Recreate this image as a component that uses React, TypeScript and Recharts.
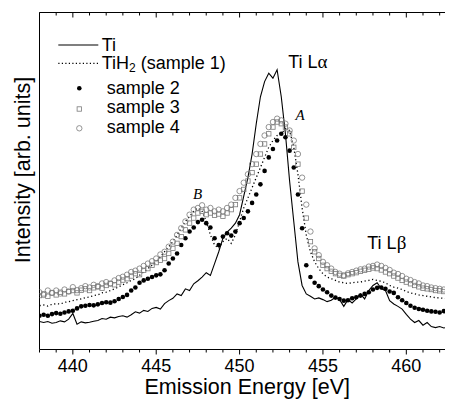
import React from 'react';
import { ComposedChart, Line, XAxis, YAxis, Legend, ReferenceDot, Label } from 'recharts';

const energies = [
  438, 438.25, 438.5, 438.75, 439, 439.25, 439.5, 439.75,
  440, 440.25, 440.5, 440.75, 441, 441.25, 441.5, 441.75,
  442, 442.25, 442.5, 442.75, 443, 443.25, 443.5, 443.75,
  444, 444.25, 444.5, 444.75, 445, 445.25, 445.5, 445.75,
  446, 446.25, 446.5, 446.75, 447, 447.25, 447.5, 447.75,
  448, 448.25, 448.5, 448.75, 449, 449.25, 449.5, 449.75,
  450, 450.25, 450.5, 450.75, 451, 451.25, 451.5, 451.75,
  452, 452.25, 452.5, 452.75, 453, 453.25, 453.5, 453.75,
  454, 454.25, 454.5, 454.75, 455, 455.25, 455.5, 455.75,
  456, 456.25, 456.5, 456.75, 457, 457.25, 457.5, 457.75,
  458, 458.25, 458.5, 458.75, 459, 459.25, 459.5, 459.75,
  460, 460.25, 460.5, 460.75, 461, 461.25, 461.5, 461.75,
  462, 462.25, 462.5, 462.75,
];

const tiMetal = [
  8.3, 8.0, 8.3, 7.8, 8.0, 8.5, 8.2, 9.0,
  10.7, 7.5, 8.2, 7.9, 8.1, 8.4, 8.6, 9.2,
  9.0, 9.6, 9.4, 9.8, 10.0, 9.6, 10.3, 11.2,
  10.8, 11.6, 11.3, 12.2, 12.5, 12.0, 13.6, 14.5,
  15.2, 16.5, 16.0, 18.0, 17.5, 19.5, 20.4, 21.5,
  22.8, 22.0, 25.5, 29.0, 33.0, 34.8, 36.0, 37.5,
  40.0, 45.5, 51.0, 58.0, 67.0, 75.0, 79.5, 82.0,
  80.5, 83.0, 75.0, 64.0, 50.0, 38.0, 26.0, 19.0,
  16.5, 15.8, 15.0, 15.3, 14.8, 14.2, 14.6, 15.5,
  14.8, 12.8, 14.8, 13.8, 15.0, 16.5, 15.0, 17.5,
  19.0, 19.8, 18.0, 17.5, 14.5, 13.5, 12.8, 12.0,
  10.4, 9.0, 8.0, 8.6, 7.2, 8.0, 6.8, 6.5,
  6.8, 6.4, 6.6, 6.5,
];

const tiH2 = [
  13.0, 13.2, 12.9, 13.4, 13.6, 13.5, 14.0, 14.2,
  14.5, 14.8, 15.0, 15.4, 15.6, 16.0, 16.2, 16.8,
  17.0, 17.5, 18.0, 18.6, 19.2, 19.8, 20.5, 21.0,
  22.0, 23.0, 24.0, 25.0, 26.0, 27.5, 29.0, 30.5,
  32.0, 34.0, 36.0, 38.0, 39.5, 41.0, 42.0, 41.0,
  38.0, 34.0, 31.0, 30.0, 32.0, 33.0, 31.5, 34.0,
  38.0, 42.0, 45.0, 48.0, 51.0, 54.0, 57.0, 60.0,
  62.0, 63.5, 64.0, 65.5, 65.0, 60.0, 52.0, 42.0,
  34.0, 29.0, 26.0, 24.0, 22.5, 21.5, 21.0, 20.5,
  20.0, 19.8, 19.6, 19.8, 20.0, 20.0, 20.3, 20.5,
  20.8, 20.5, 20.2, 19.8, 19.0, 18.5, 18.2, 17.8,
  17.2, 16.8, 16.5, 16.2, 16.0, 15.8, 15.6, 15.4,
  15.3, 15.2, 15.0, 15.0,
];

const sample2 = [
  10.0, 10.3, 10.0, 10.5, 10.8, 10.6, 11.0, 11.3,
  11.5, 12.2, 12.8, 13.0, 13.2, 13.1, 13.4, 13.8,
  14.0, 13.9, 14.3, 15.0, 15.6, 16.2, 17.5, 18.4,
  19.8, 20.5, 21.0, 21.5, 22.0, 22.3, 23.5, 25.5,
  27.0, 28.5, 31.0, 33.0, 35.0, 36.2, 37.8, 38.5,
  37.5, 36.2, 33.0, 31.0, 33.5, 34.5, 33.8, 35.0,
  37.5, 39.0, 41.0, 43.5, 46.0, 49.0, 53.0, 57.0,
  59.5, 62.0, 64.0, 63.0, 59.0, 54.0, 46.0, 36.0,
  25.0, 21.5, 19.8, 18.8, 17.8, 17.0, 16.0, 15.4,
  15.0, 14.5, 14.6, 15.2, 15.5, 16.0, 16.5, 17.0,
  17.8, 18.3, 18.4, 18.0, 17.2, 16.8, 15.5, 14.6,
  13.8, 13.0, 12.4, 12.0, 11.8, 11.5, 11.3, 11.2,
  11.0, 11.4, 11.6, 11.5,
];

const sample3 = [
  16.0, 16.5, 15.8, 16.8, 16.2, 17.0, 16.5, 17.2,
  17.5, 16.8, 17.6, 18.0, 17.5, 18.3, 18.6, 18.2,
  19.0, 19.5, 19.2, 20.0, 20.6, 21.0, 21.8, 22.5,
  22.2, 23.5, 24.0, 25.0, 25.8, 26.5, 27.0, 28.5,
  30.0, 31.5, 33.5, 35.5, 37.5, 39.0, 40.5, 41.0,
  40.0, 40.5, 39.8, 40.2, 39.5, 40.5, 41.5, 43.0,
  45.0, 47.5, 50.0, 52.5, 55.0, 58.0, 61.0, 64.0,
  66.0, 67.5, 67.0, 66.0, 64.0, 60.0, 55.0, 47.0,
  39.0, 32.0, 29.0, 27.0, 25.0, 24.0, 23.2, 22.5,
  22.0, 21.8, 22.2, 22.5, 22.8, 23.2, 23.5, 23.8,
  24.2, 24.0, 23.6, 23.0, 22.5, 21.8, 21.2, 20.5,
  20.0, 19.5, 19.0, 18.6, 18.2, 18.0, 17.8, 17.5,
  17.4, 17.2, 17.0, 17.2,
];

const sample4 = [
  17.0, 16.2, 17.5, 16.8, 17.5, 16.6, 17.8, 17.2,
  18.5, 17.6, 18.2, 18.8, 18.4, 19.2, 18.8, 19.6,
  20.0, 19.6, 20.5, 21.2, 21.6, 22.2, 23.0, 23.4,
  24.0, 24.8, 25.5, 26.2, 27.0, 28.2, 29.0, 30.5,
  32.0, 34.0, 36.0, 38.0, 40.0, 41.5, 42.0, 42.8,
  41.5, 42.0, 41.0, 41.5, 41.0, 42.0, 43.0, 45.0,
  47.0, 49.5, 52.0, 55.0, 58.0, 61.0, 63.5, 66.0,
  67.5, 68.5, 68.0, 67.0, 65.0, 62.0, 58.0, 51.0,
  43.0, 35.0, 30.0, 28.0, 26.0, 25.0, 24.0, 23.0,
  22.5, 22.0, 22.6, 23.0, 23.4, 23.8, 24.0, 24.6,
  24.8, 25.2, 24.8, 24.2, 23.6, 22.8, 22.4, 21.8,
  21.0, 20.6, 20.0, 19.6, 19.0, 18.8, 18.4, 18.2,
  18.0, 17.8, 17.6, 17.5,
];

const seriesNames = ['Ti', 'TiH2 (sample 1)', 'sample 2', 'sample 3', 'sample 4'];
const majorTicks = [440, 445, 450, 455, 460];
const allTicks = [
  438, 439, 440, 441, 442, 443, 444, 445, 446, 447, 448, 449, 450,
  451, 452, 453, 454, 455, 456, 457, 458, 459, 460, 461, 462,
];
const xDomain = [438, 462.8];
const yDomain = [0, 100];

const annotations = [
  { id: 'la', e: 452.92, v: 83.6, main: 'Ti L', greek: 'α', italic: false },
  { id: 'lb', e: 457.66, v: 29.8, main: 'Ti L', greek: 'β', italic: false },
  { id: 'A', e: 453.35, v: 68.0, main: 'A', greek: '', italic: true },
  { id: 'B', e: 447.2, v: 44.8, main: 'B', greek: '', italic: true },
];

const data = energies.map((e, i) => ({
  e,
  ti: tiMetal[i],
  tih2: tiH2[i],
  s2: sample2[i],
  s3: sample3[i],
  s4: sample4[i],
}));

const SANS = '"Liberation Sans", Arial, Helvetica, sans-serif';
const SERIF = '"Liberation Serif", "Times New Roman", serif';
const GREY = '#7a7a7a';

const filledDot = (p: any) => {
  if (p.cx == null || p.cy == null) return <g key={`f${p.index}`} />;
  return <circle key={`f${p.index}`} cx={p.cx} cy={p.cy} r={2.3} fill="#000" stroke="none" />;
};
const squareDot = (p: any) => {
  if (p.cx == null || p.cy == null) return <g key={`q${p.index}`} />;
  return (
    <rect key={`q${p.index}`} x={p.cx - 2.2} y={p.cy - 2.2} width={4.4} height={4.4}
      fill="none" stroke={GREY} strokeWidth={0.8} />
  );
};
const openDot = (p: any) => {
  if (p.cx == null || p.cy == null) return <g key={`o${p.index}`} />;
  return <circle key={`o${p.index}`} cx={p.cx} cy={p.cy} r={2.7} fill="none" stroke={GREY} strokeWidth={0.8} />;
};

const renderBottomTick = (props: any) => {
  const { x, y, payload } = props;
  const major = majorTicks.includes(payload.value);
  return (
    <g>
      <line x1={x} x2={x} y1={y} y2={y + (major ? 5 : 3)} stroke="#000" strokeWidth={1} />
      {major && (
        <text x={x} y={y + 22.5} textAnchor="middle" fontSize={18} fontFamily={SANS} fill="#000">
          {payload.value}
        </text>
      )}
    </g>
  );
};

const renderTopTick = (props: any) => {
  const { x, y, payload } = props;
  const major = majorTicks.includes(payload.value);
  return <line x1={x} x2={x} y1={y} y2={y + (major ? 5 : 3)} stroke="#000" strokeWidth={1} />;
};

const legendLayout: Record<string, { kind: string; sy: number; ty: number; tx: number }> = {
  ti: { kind: 'solid', sy: 37, ty: 42.7, tx: 93.7 },
  tih2: { kind: 'dotted', sy: 55.3, ty: 61.3, tx: 93.7 },
  s2: { kind: 'filled', sy: 80.3, ty: 86, tx: 98.7 },
  s3: { kind: 'square', sy: 101, ty: 105.3, tx: 98.7 },
  s4: { kind: 'circle', sy: 120.3, ty: 124.7, tx: 98.7 },
};
const legendKeys = ['ti', 'tih2', 's2', 's3', 's4'];

const renderLegend = (props: any) => {
  const payload = props.payload || [];
  return (
    <svg width={445} height={140} style={{ position: 'absolute', left: 0, top: 0, overflow: 'visible' }}>
      {payload.map((entry: any, i: number) => {
        const key = typeof entry.dataKey === 'string' ? entry.dataKey : legendKeys[i];
        const l = legendLayout[key];
        if (!l) return null;
        const name = String(entry.value);
        let symbol: any = null;
        if (l.kind === 'solid') symbol = <line x1={50.3} x2={90.3} y1={l.sy} y2={l.sy} stroke="#000" strokeWidth={1.1} />;
        if (l.kind === 'dotted') symbol = <line x1={50.3} x2={90.3} y1={l.sy} y2={l.sy} stroke="#000" strokeWidth={1.2} strokeDasharray="1.2 2.3" />;
        if (l.kind === 'filled') symbol = <circle cx={71.3} cy={l.sy} r={2.3} fill="#000" />;
        if (l.kind === 'square') symbol = <rect x={69.1} y={l.sy - 2.2} width={4.4} height={4.4} fill="none" stroke={GREY} strokeWidth={0.8} />;
        if (l.kind === 'circle') symbol = <circle cx={71.3} cy={l.sy} r={2.7} fill="none" stroke={GREY} strokeWidth={0.8} />;
        const isH2 = name.startsWith('TiH2');
        return (
          <g key={key}>
            {symbol}
            <text x={l.tx} y={l.ty} fontSize={18} fontFamily={SANS} fill="#000">
              {isH2 ? (
                <>
                  <tspan>TiH</tspan>
                  <tspan fontSize={12} dy={3}>2</tspan>
                  <tspan dy={-3}>{name.slice(4)}</tspan>
                </>
              ) : name}
            </text>
          </g>
        );
      })}
    </svg>
  );
};

const renderXLabel = (props: any) => {
  const vb = props.viewBox || { x: 31.5, y: 341.5, width: 413.5, height: 55.5 };
  return (
    <text x={vb.x + vb.width / 2 + 1} y={vb.y + vb.height - 11} textAnchor="middle" fontSize={21.5} fontFamily={SANS} fill="#000">
      Emission Energy [eV]
    </text>
  );
};

const renderYLabel = (props: any) => {
  const vb = props.viewBox || { x: 0, y: 4.5, width: 31.5, height: 337 };
  const x = vb.x + 22;
  const y = vb.y + vb.height / 2 - 11;
  return (
    <text x={x} y={y} transform={`rotate(-90, ${x}, ${y})`} textAnchor="middle" fontSize={21.5} fontFamily={SANS} fill="#000">
      Intensity [arb. units]
    </text>
  );
};

const makeAnnotation = (a: any) => (props: any) => {
  const vb = props.viewBox || { x: 0, y: 0 };
  if (a.italic) {
    return (
      <text x={vb.x} y={vb.y} fontSize={15} fontStyle="italic" fontFamily={SERIF} fill="#000">{a.main}</text>
    );
  }
  return (
    <text x={vb.x} y={vb.y} fontSize={18} fontFamily={SANS} fill="#000">
      <tspan>{a.main}</tspan>
      <tspan fontFamily={SERIF} fontSize={19}>{a.greek}</tspan>
    </text>
  );
};

export default function App() {
  return (
    <div style={{ width: 445, height: 397 }}>
      <ComposedChart width={445} height={397} data={data} margin={{ top: 3.5, right: 0, bottom: 0, left: 0 }}>
        <XAxis
          xAxisId="t" orientation="top" dataKey="e" type="number" domain={xDomain}
          ticks={allTicks} interval={0} tickSize={0} tickMargin={0} height={1}
          tickLine={false} tick={renderTopTick} axisLine={{ stroke: '#000', strokeWidth: 1 }} allowDataOverflow
        />
        <XAxis
          xAxisId="b" dataKey="e" type="number" domain={xDomain}
          ticks={allTicks} interval={0} tickSize={0} tickMargin={0} height={55.5}
          tickLine={false} tick={renderBottomTick} axisLine={{ stroke: '#000', strokeWidth: 1 }} allowDataOverflow
        >
          <Label content={renderXLabel} />
        </XAxis>
        <YAxis
          yAxisId="y" type="number" domain={yDomain} width={31.5} tick={false} tickLine={false}
          axisLine={{ stroke: '#000', strokeWidth: 1 }} allowDataOverflow
        >
          <Label content={renderYLabel} />
        </YAxis>
        <Legend
          layout="horizontal" verticalAlign="middle" align="center" content={renderLegend}
          wrapperStyle={{ left: 0, top: 0, width: 445, height: 0, position: 'absolute' }}
        />
        <Line xAxisId="b" yAxisId="y" dataKey="ti" name={seriesNames[0]} type="linear" stroke="#000"
          strokeWidth={1.1} dot={false} activeDot={false} isAnimationActive={false} />
        <Line xAxisId="b" yAxisId="y" dataKey="tih2" name={seriesNames[1]} type="linear" stroke="#000"
          strokeWidth={1.3} strokeDasharray="1.2 2.6" dot={false} activeDot={false} isAnimationActive={false} />
        <Line xAxisId="b" yAxisId="y" dataKey="s2" name={seriesNames[2]} stroke="none"
          dot={filledDot} activeDot={false} isAnimationActive={false} />
        <Line xAxisId="b" yAxisId="y" dataKey="s3" name={seriesNames[3]} stroke="none"
          dot={squareDot} activeDot={false} isAnimationActive={false} />
        <Line xAxisId="b" yAxisId="y" dataKey="s4" name={seriesNames[4]} stroke="none"
          dot={openDot} activeDot={false} isAnimationActive={false} />
        {annotations.map((a) => (
          <ReferenceDot key={a.id} xAxisId="b" yAxisId="y" x={a.e} y={a.v} r={0}
            fill="none" stroke="none" label={makeAnnotation(a)} />
        ))}
      </ComposedChart>
    </div>
  );
}
